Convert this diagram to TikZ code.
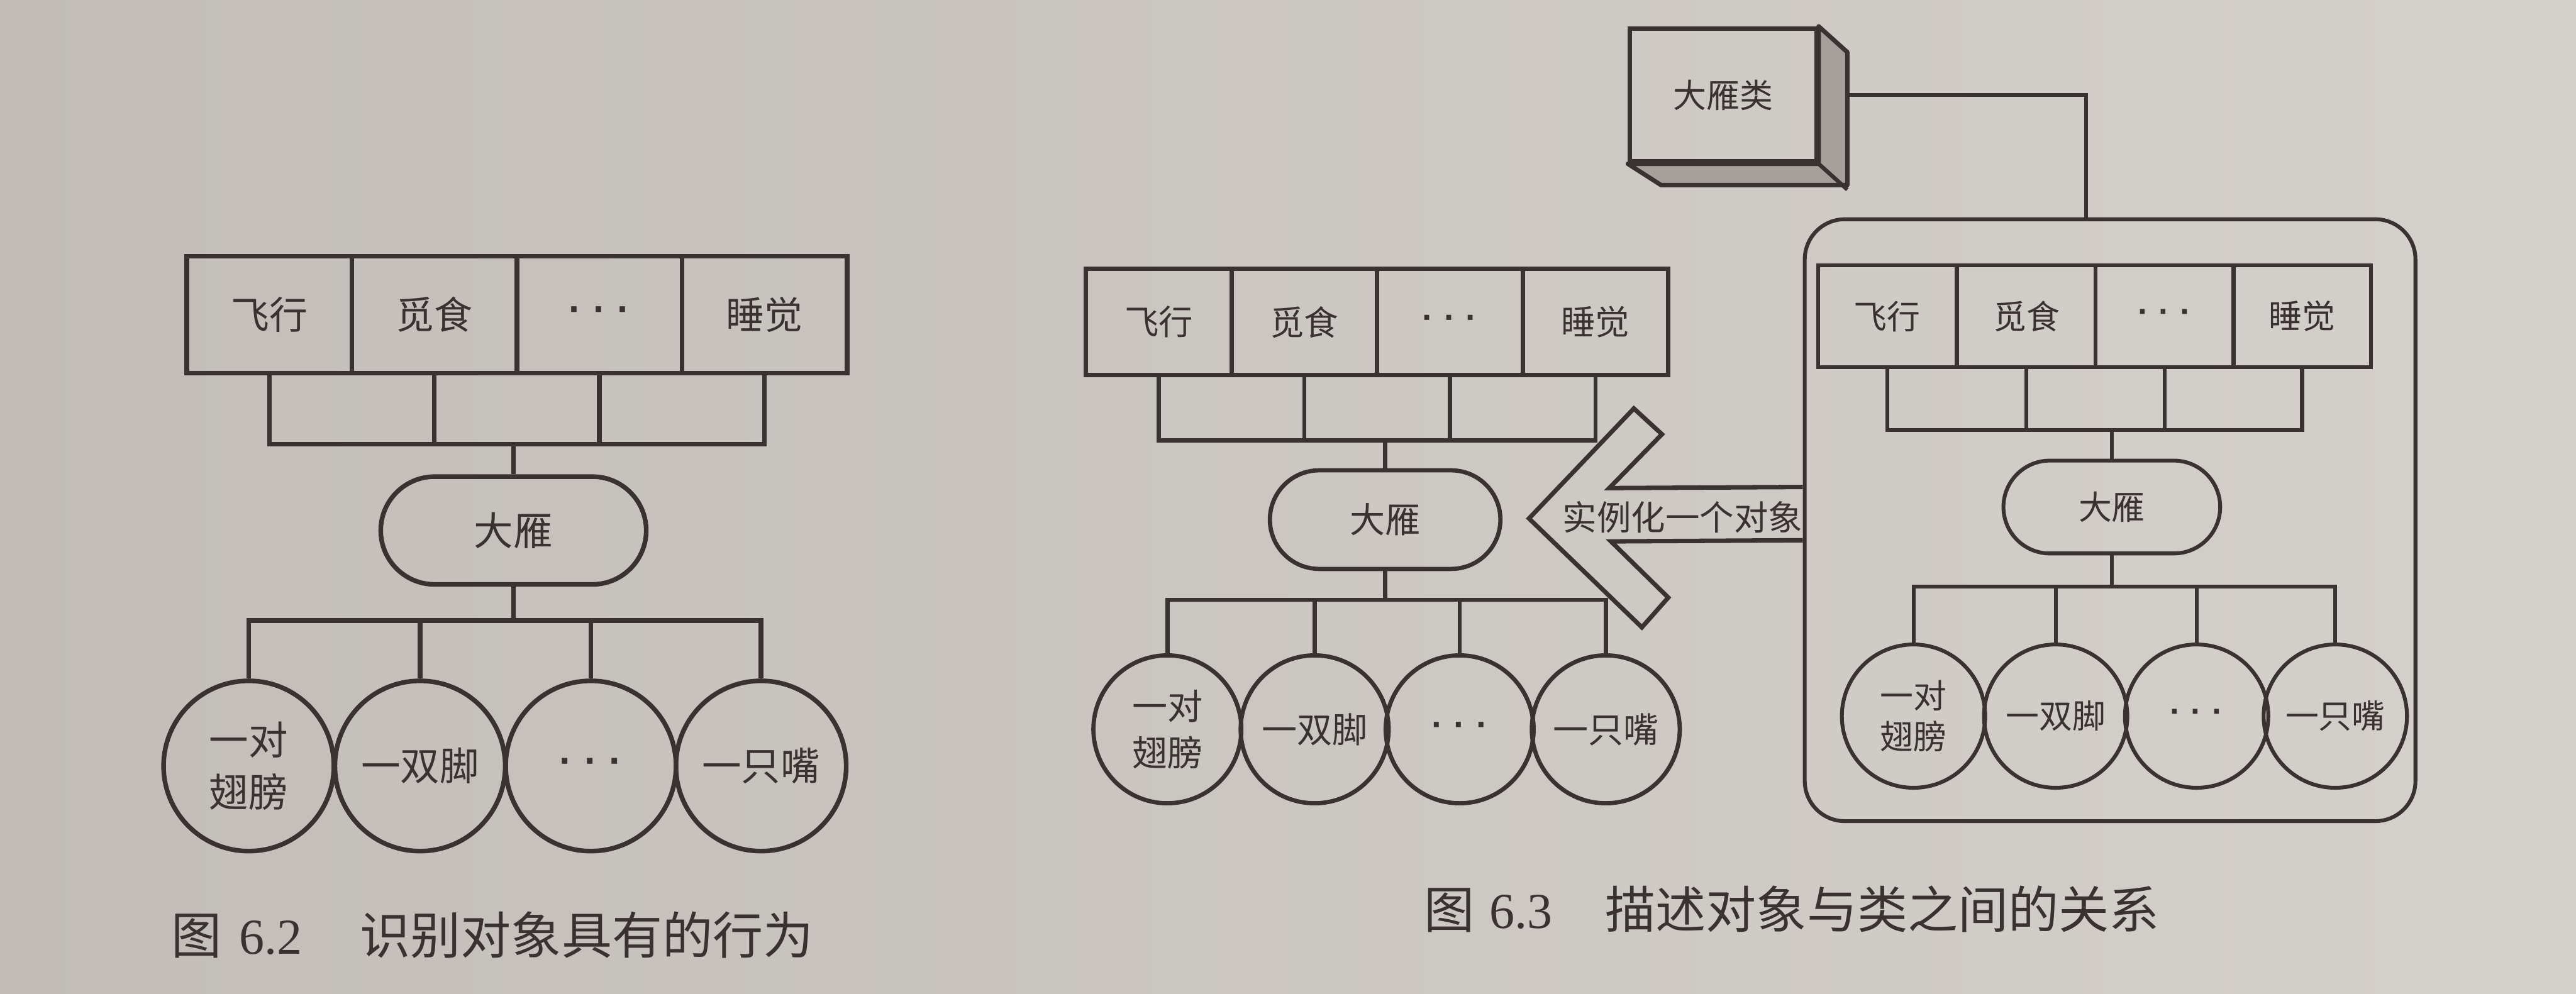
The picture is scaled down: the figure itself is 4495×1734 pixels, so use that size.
\documentclass[tikz,border=0pt]{standalone}
\usepackage{fontspec}
\setmainfont{Noto Sans CJK SC}
\newfontfamily\serifnum{Liberation Serif}
\newfontfamily\dotfont{Liberation Sans}
\usetikzlibrary{calc}
\definecolor{paperL}{RGB}{194,189,184}
\definecolor{paperR}{RGB}{212,208,204}
\definecolor{ink}{RGB}{58,50,48}
\definecolor{shadeb}{RGB}{165,160,156}
\newcommand{\fs}[2]{\fontsize{#1}{#2}\selectfont}
\newcommand{\mydots}{\raisebox{-0.2em}{\dotfont\bfseries ·\hspace{0.3em}·\hspace{0.3em}·}}
\tikzset{
  every node/.style={text=ink},
  lineL/.style={draw=ink, line width=2.3pt},
  lineM/.style={draw=ink, line width=2.1pt},
  lineR/.style={draw=ink, line width=1.9pt},
  boxL/.style={lineL, rectangle, inner sep=0pt, minimum width=2.88cm, minimum height=2.04cm, font=\fs{19pt}{19pt}},
  stadL/.style={lineL, rectangle, inner sep=0pt, rounded corners=0.94cm, minimum width=4.63cm, minimum height=1.88cm, font=\fs{19.5pt}{19.5pt}},
  circL/.style={lineL, circle, inner sep=0pt, minimum size=2.97cm, align=center, font=\fs{19.5pt}{26pt}},
  boxM/.style={lineM, rectangle, inner sep=0pt, minimum width=2.54cm, minimum height=1.85cm, font=\fs{17pt}{17pt}},
  stadM/.style={lineM, rectangle, inner sep=0pt, rounded corners=0.86cm, minimum width=4.02cm, minimum height=1.72cm, font=\fs{17.5pt}{17.5pt}},
  circM/.style={lineM, circle, inner sep=0pt, minimum size=2.58cm, align=center, font=\fs{17.5pt}{23pt}},
  boxR/.style={lineR, rectangle, inner sep=0pt, minimum width=2.41cm, minimum height=1.77cm, font=\fs{16.5pt}{16.5pt}},
  stadR/.style={lineR, rectangle, inner sep=0pt, rounded corners=0.81cm, minimum width=3.78cm, minimum height=1.62cm, font=\fs{16.5pt}{16.5pt}},
  circR/.style={lineR, circle, inner sep=0pt, minimum size=2.5cm, align=center, font=\fs{16.5pt}{20.5pt}},
  caption/.style={anchor=west, inner sep=0pt, font=\fs{25pt}{25pt}},
}
\begin{document}
\begin{tikzpicture}[x=0.01cm,y=-0.01cm]
\shade[left color=paperL, right color=paperR] (0,0) rectangle (4495,1734);
\useasboundingbox (0,0) rectangle (4495,1734);

% ---------------- Figure 6.2 (left) ----------------
\node[boxL] (L1) at (470,549) {飞行};
\node[boxL] (L2) at (758,549) {觅食};
\node[boxL] (L3) at (1046,549) {\mydots};
\node[boxL] (L4) at (1334,549) {睡觉};
\node[stadL] (LS) at (896,926) {大雁};
\coordinate (LJa) at (896,775);
\coordinate (LJb) at (896,1083);
\node[circL] (LC1) at (434,1337) {一对\\翅膀};
\node[circL] (LC2) at (733,1337) {一双脚};
\node[circL] (LC3) at (1031,1337) {\mydots};
\node[circL] (LC4) at (1328,1337) {一只嘴};
\draw[lineL] (L1.south) |- (LJa) -| (L4.south);
\draw[lineL] (L2.south) -- (L2.south |- LJa);
\draw[lineL] (L3.south) -- (L3.south |- LJa);
\draw[lineL] (LJa) -- (LS.north);
\draw[lineL] (LS.south) -- (LJb);
\draw[lineL] (LC1.north) |- (LJb) -| (LC4.north);
\draw[lineL] (LC2.north) -- (LC2.north |- LJb);
\draw[lineL] (LC3.north) -- (LC3.north |- LJb);

% ---------------- Figure 6.3 middle (object) ----------------
\node[boxM] (M1) at (2022,562) {飞行};
\node[boxM] (M2) at (2276,562) {觅食};
\node[boxM] (M3) at (2530,562) {\mydots};
\node[boxM] (M4) at (2784,562) {睡觉};
\node[stadM] (MS) at (2417,907) {大雁};
\coordinate (MJa) at (2417,769);
\coordinate (MJb) at (2417,1047);
\node[circM] (MC1) at (2037,1273) {一对\\翅膀};
\node[circM] (MC2) at (2294,1273) {一双脚};
\node[circM] (MC3) at (2547,1273) {\mydots};
\node[circM] (MC4) at (2802,1273) {一只嘴};
\draw[lineM] (M1.south) |- (MJa) -| (M4.south);
\draw[lineM] (M2.south) -- (M2.south |- MJa);
\draw[lineM] (M3.south) -- (M3.south |- MJa);
\draw[lineM] (MJa) -- (MS.north);
\draw[lineM] (MS.south) -- (MJb);
\draw[lineM] (MC1.north) |- (MJb) -| (MC4.north);
\draw[lineM] (MC2.north) -- (MC2.north |- MJb);
\draw[lineM] (MC3.north) -- (MC3.north |- MJb);

% ---------------- Figure 6.3 right (class) ----------------
\node[lineR, rectangle, rounded corners=0.7cm, minimum width=10.65cm, minimum height=10.5cm] (RC) at (3682,908) {};
\node[boxR] (R1) at (3293,552) {飞行};
\node[boxR] (R2) at (3536,552) {觅食};
\node[boxR] (R3) at (3777,552) {\mydots};
\node[boxR] (R4) at (4017,552) {睡觉};
\node[stadR] (RS) at (3685,885) {大雁};
\coordinate (RJa) at (3685,751);
\coordinate (RJb) at (3685,1024);
\node[circR] (RC1) at (3339,1250) {一对\\翅膀};
\node[circR] (RC2) at (3587,1250) {一双脚};
\node[circR] (RC3) at (3833,1250) {\mydots};
\node[circR] (RC4) at (4075,1250) {一只嘴};
\draw[lineR] (R1.south) |- (RJa) -| (R4.south);
\draw[lineR] (R2.south) -- (R2.south |- RJa);
\draw[lineR] (R3.south) -- (R3.south |- RJa);
\draw[lineR] (RJa) -- (RS.north);
\draw[lineR] (RS.south) -- (RJb);
\draw[lineR] (RC1.north) |- (RJb) -| (RC4.north);
\draw[lineR] (RC2.north) -- (RC2.north |- RJb);
\draw[lineR] (RC3.north) -- (RC3.north |- RJb);

% ---------------- 大雁类 3D box ----------------
\node[draw=ink, line width=2.2pt, rectangle, inner sep=0pt, minimum width=3.25cm, minimum height=2.32cm, font=\fs{16.5pt}{16.5pt}] (K) at (3007,166) {大雁类};
\filldraw[fill=shadeb, draw=ink, line width=2.2pt, line join=round]
  (K.north east) -- ++(50,45) -- ++(0,232) -- ++(-325,0) -- (K.south west) -- (K.south east) -- cycle;
\draw[draw=ink, line width=2pt] (K.south east) -- ++(50,45);
\coordinate (Kside) at ($(K.east)+(50,0)$);
\coordinate (Rtop) at (3640,383);
\draw[lineR] (Kside) -| (Rtop);

% ---------------- instantiate arrow ----------------
\path (RC.west) ++(0,-58) coordinate (As1);
\path (RC.west) ++(0,35) coordinate (As2);
\draw[draw=ink, line width=2.2pt, line join=miter]
  (As1) -- (2808,852) -- (2900,758) -- (2851,713) -- (2668,905)
  -- (2865,1095) -- (2911,1043) -- (2811,945) -- (As2);
\node[font=\fs{17pt}{17pt}, inner sep=0pt] (AT) at (2936,903) {实例化一个对象};

% ---------------- captions ----------------
\node[caption] (Cap1) at (298,1632) {图\hspace{0.35em}{\serifnum 6.2}\hspace{1.15em}识别对象具有的行为};
\node[caption] (Cap2) at (2484,1587) {图\hspace{0.3em}{\serifnum 6.3}\hspace{1.05em}描述对象与类之间的关系};
\end{tikzpicture}
\end{document}
